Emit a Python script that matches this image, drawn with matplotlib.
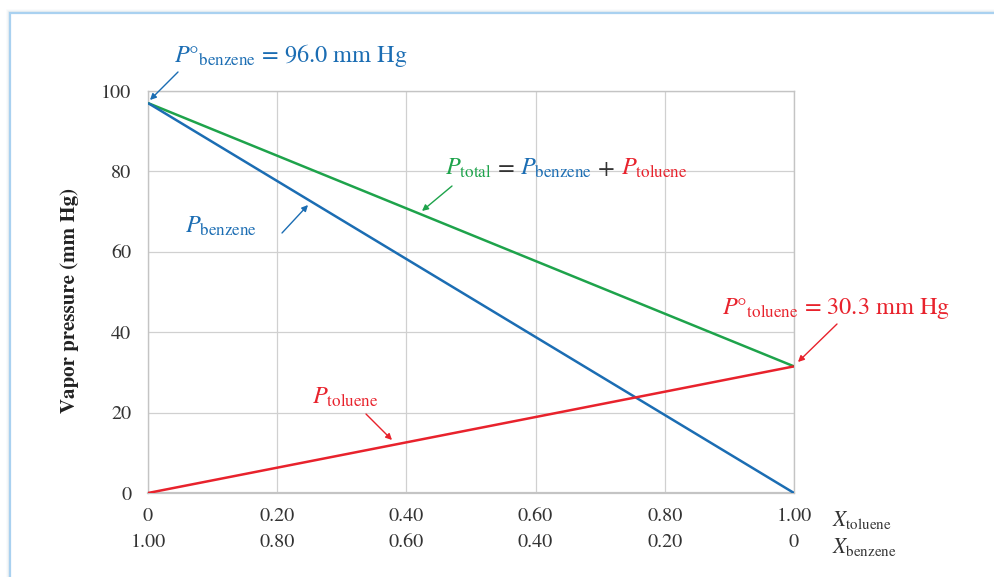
import matplotlib
matplotlib.use("Agg")
import matplotlib.pyplot as plt
from matplotlib.patches import Rectangle

plt.rcParams['font.family'] = ['STIXGeneral', 'DejaVu Serif']
plt.rcParams['mathtext.fontset'] = 'stix'

# data
x_toluene = [0.0, 1.0]
p_benzene = [97.0, 0.0]
p_toluene = [0.0, 31.5]
p_total = [b + t for b, t in zip(p_benzene, p_toluene)]

xticks = [0, 0.2, 0.4, 0.6, 0.8, 1.0]
xlabels_toluene = ["0", "0.20", "0.40", "0.60", "0.80", "1.00"]
xlabels_benzene = ["1.00", "0.80", "0.60", "0.40", "0.20", "0"]
yticks = [0, 20, 40, 60, 80, 100]

BLUE = '#1b6db3'
GREEN = '#1ea34b'
RED = '#e8222c'
GRAY = '#333333'

W, H = 994, 577
fig = plt.figure(figsize=(W / 100, H / 100), dpi=100)

# frame of the panel
for i, a in enumerate([0.05, 0.08, 0.12]):
    fig.patches.append(Rectangle((10 / W - (3 - i) / W, -0.1), 1.2, 1 - 13 / H + 0.1 + (3 - i) / H,
                                 transform=fig.transFigure, facecolor='none',
                                 edgecolor='#9fb6c8', alpha=a, lw=2, zorder=-10))
fig.patches.append(Rectangle((10 / W, -0.1), 1.2, 1 - 13 / H + 0.1,
                             transform=fig.transFigure, facecolor='white',
                             edgecolor='#a9d1f0', lw=1.6, zorder=-9))

ax = fig.add_axes([148 / W, 1 - 493 / H, (794 - 148) / W, (493 - 91) / H])
ax.set_facecolor('none')
ax.plot(x_toluene, p_total, color=GREEN, lw=1.8, zorder=3, solid_capstyle='butt')
ax.plot(x_toluene, p_benzene, color=BLUE, lw=1.8, zorder=3, solid_capstyle='butt')
ax.plot(x_toluene, p_toluene, color=RED, lw=1.8, zorder=4, solid_capstyle='butt')

ax.set_xlim(0, 1)
ax.set_ylim(0, 100)
ax.set_xticks(xticks)
ax.set_yticks(yticks)
ax.set_xticklabels(xlabels_toluene)
ax.grid(True, color='#d0d0d0', lw=0.9)
ax.set_axisbelow(True)
for s in ax.spines.values():
    s.set_color('#c4c4c4')
    s.set_linewidth(1.0)
ax.spines['bottom'].set_linewidth(1.6)
ax.tick_params(length=0, labelsize=14.5, colors=GRAY, pad=11)
ax.tick_params(axis='y', pad=12)

# second row of x labels
for xv, lab in zip(xticks, xlabels_benzene):
    ax.text(xv, -12.3, lab, ha='center', va='center', fontsize=14.5, color=GRAY,
            transform=ax.transData, clip_on=False)
fig.text(832 / W, 1 - 520 / H, r'$X_{\mathrm{toluene}}$', fontsize=15.5, color=GRAY, va='center')
fig.text(832 / W, 1 - 547 / H, r'$X_{\mathrm{benzene}}$', fontsize=15.5, color=GRAY, va='center')

fig.text(70 / W, 1 - 300 / H, 'Vapor pressure (mm Hg)', rotation=90, fontsize=15,
         fontweight='bold', color='#222222', ha='center', va='center')

arrow_kw = dict(arrowstyle='-|>', lw=1.0, mutation_scale=9, shrinkA=0, shrinkB=0)


def fig_arrow(x0, y0, x1, y1, color):
    ax.annotate('', xy=(x1 / W, 1 - y1 / H), xycoords='figure fraction',
                xytext=(x0 / W, 1 - y0 / H), textcoords='figure fraction',
                arrowprops=dict(color=color, **arrow_kw), annotation_clip=False)


FS = 17.5
# labels
fig.text(174 / W, 1 - 62 / H, r'$P\mathrm{°}_{\mathrm{benzene}}$ = 96.0 mm Hg', fontsize=FS,
         color=BLUE, va='baseline')
fig_arrow(178, 72, 150, 100, BLUE)

fig.text(722 / W, 1 - 314 / H, r'$P\mathrm{°}_{\mathrm{toluene}}$ = 30.3 mm Hg', fontsize=FS,
         color=RED, va='baseline')
fig_arrow(837, 324, 798, 362, RED)

fig.text(185 / W, 1 - 233 / H, r'$P_{\mathrm{benzene}}$', fontsize=FS, color=BLUE, va='baseline')
fig_arrow(282, 233, 308, 205, BLUE)

fig.text(312 / W, 1 - 404 / H, r'$P_{\mathrm{toluene}}$', fontsize=FS, color=RED, va='baseline')
fig_arrow(366, 414, 392, 440, RED)

# multicolour P_total label
pieces = [(r'$P_{\mathrm{total}}$', GREEN), (' = ', GRAY), (r'$P_{\mathrm{benzene}}$', BLUE),
          (' + ', GRAY), (r'$P_{\mathrm{toluene}}$', RED)]
fig.canvas.draw()
renderer = fig.canvas.get_renderer()
xpos = 445
for s, c in pieces:
    t = fig.text(xpos / W, 1 - 175 / H, s, fontsize=FS, color=c, va='baseline')
    bb = t.get_window_extent(renderer)
    xpos += bb.width
fig_arrow(452, 186, 422, 211, GREEN)

fig.savefig('out.png', dpi=100)
